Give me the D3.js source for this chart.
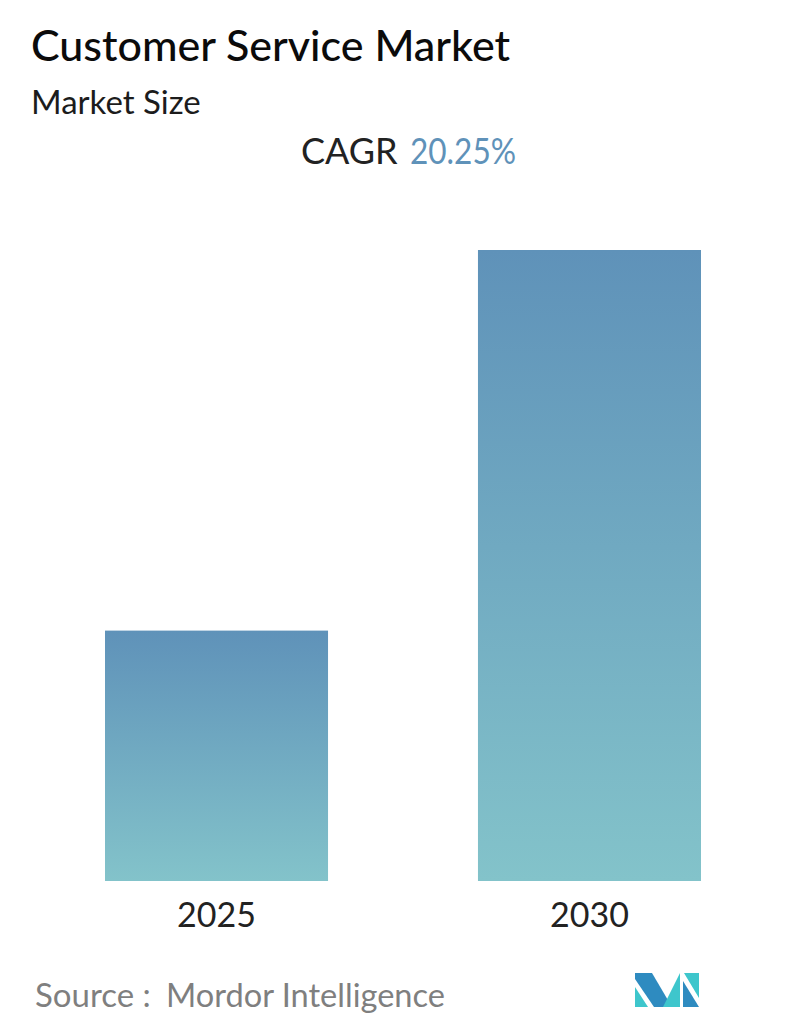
<!DOCTYPE html>
<html><head><meta charset="utf-8">
<script src="https://cdn.jsdelivr.net/npm/d3@7"></script>
<style>html,body{margin:0;padding:0;background:#fff}svg{display:block}text{font-family:Lato,"Open Sans",sans-serif}</style>
</head><body><div id="chart"></div>
<script>
const categories = ["2025","2030"];
const values = [1, 2.52];
const titleText = "Customer Service Market";
const subtitleText = "Market Size";
const cagrLabel = "CAGR";
const cagrValue = "20.25%";
const sourceText = "Source :";
const sourceName = "Mordor Intelligence";

const svg = d3.select("#chart").append("svg").attr("width",796).attr("height",1034);
const grad = svg.append("defs").append("linearGradient").attr("id","g").attr("x1",0).attr("y1",0).attr("x2",0).attr("y2",1);
grad.append("stop").attr("offset","0%").attr("stop-color","#5f92b9");
grad.append("stop").attr("offset","100%").attr("stop-color","#83c3ca");

const x = d3.scaleBand().domain(categories).range([105,701]).paddingInner(0.402).paddingOuter(0);
const y = d3.scaleLinear().domain([0,2.52]).range([881,250]);

svg.selectAll("rect.bar").data(categories).join("rect").attr("class","bar")
  .attr("x",d=>x(d)).attr("width",x.bandwidth())
  .attr("y",(d,i)=>y(values[i])).attr("height",(d,i)=>y(0)-y(values[i]))
  .attr("fill","url(#g)");

const axis = d3.axisBottom(x).tickSize(0).tickPadding(0);
const ax = svg.append("g").attr("transform","translate(0,881)").call(axis);
ax.select(".domain").remove();
ax.selectAll("text").attr("y",46).attr("dy",0).attr("font-size",34).attr("fill","#222").style("font-family","Lato");

svg.append("text").attr("x",31).attr("y",61).attr("font-size",43).attr("font-weight",500).attr("fill","#0b0b0b").text(titleText);
svg.append("text").attr("x",31).attr("y",114).attr("font-size",33).attr("fill","#1c1c1c").text(subtitleText);
svg.append("text").attr("x",301).attr("y",164).attr("font-size",36).attr("fill","#222").text(cagrLabel);
svg.append("text").attr("x",410).attr("y",164).attr("font-size",36).attr("textLength",106).attr("lengthAdjust","spacingAndGlyphs").attr("fill","#5f92b9").text(cagrValue);
svg.append("text").attr("x",35).attr("y",1007).attr("font-size",33).attr("fill","#7f7f7f").text(sourceText);
svg.append("text").attr("x",166).attr("y",1007).attr("font-size",32.6).attr("fill","#7f7f7f").text(sourceName);

const logo = svg.append("g");
const logoShapes = [
 ["#2e8bc0","M635,973H652L672,1007H654L635,979Z"],
 ["#3ec6cc","M635,987L648,1007H635Z"],
 ["#3ec6cc","M663,1007L680,973V1007Z"],
 ["#2e8bc0","M683,981L699,1007H683Z"],
 ["#3ec6cc","M684,973H699V998Z"]
];
logo.selectAll("path").data(logoShapes).join("path").attr("fill",d=>d[0]).attr("d",d=>d[1]);
</script></body></html>
